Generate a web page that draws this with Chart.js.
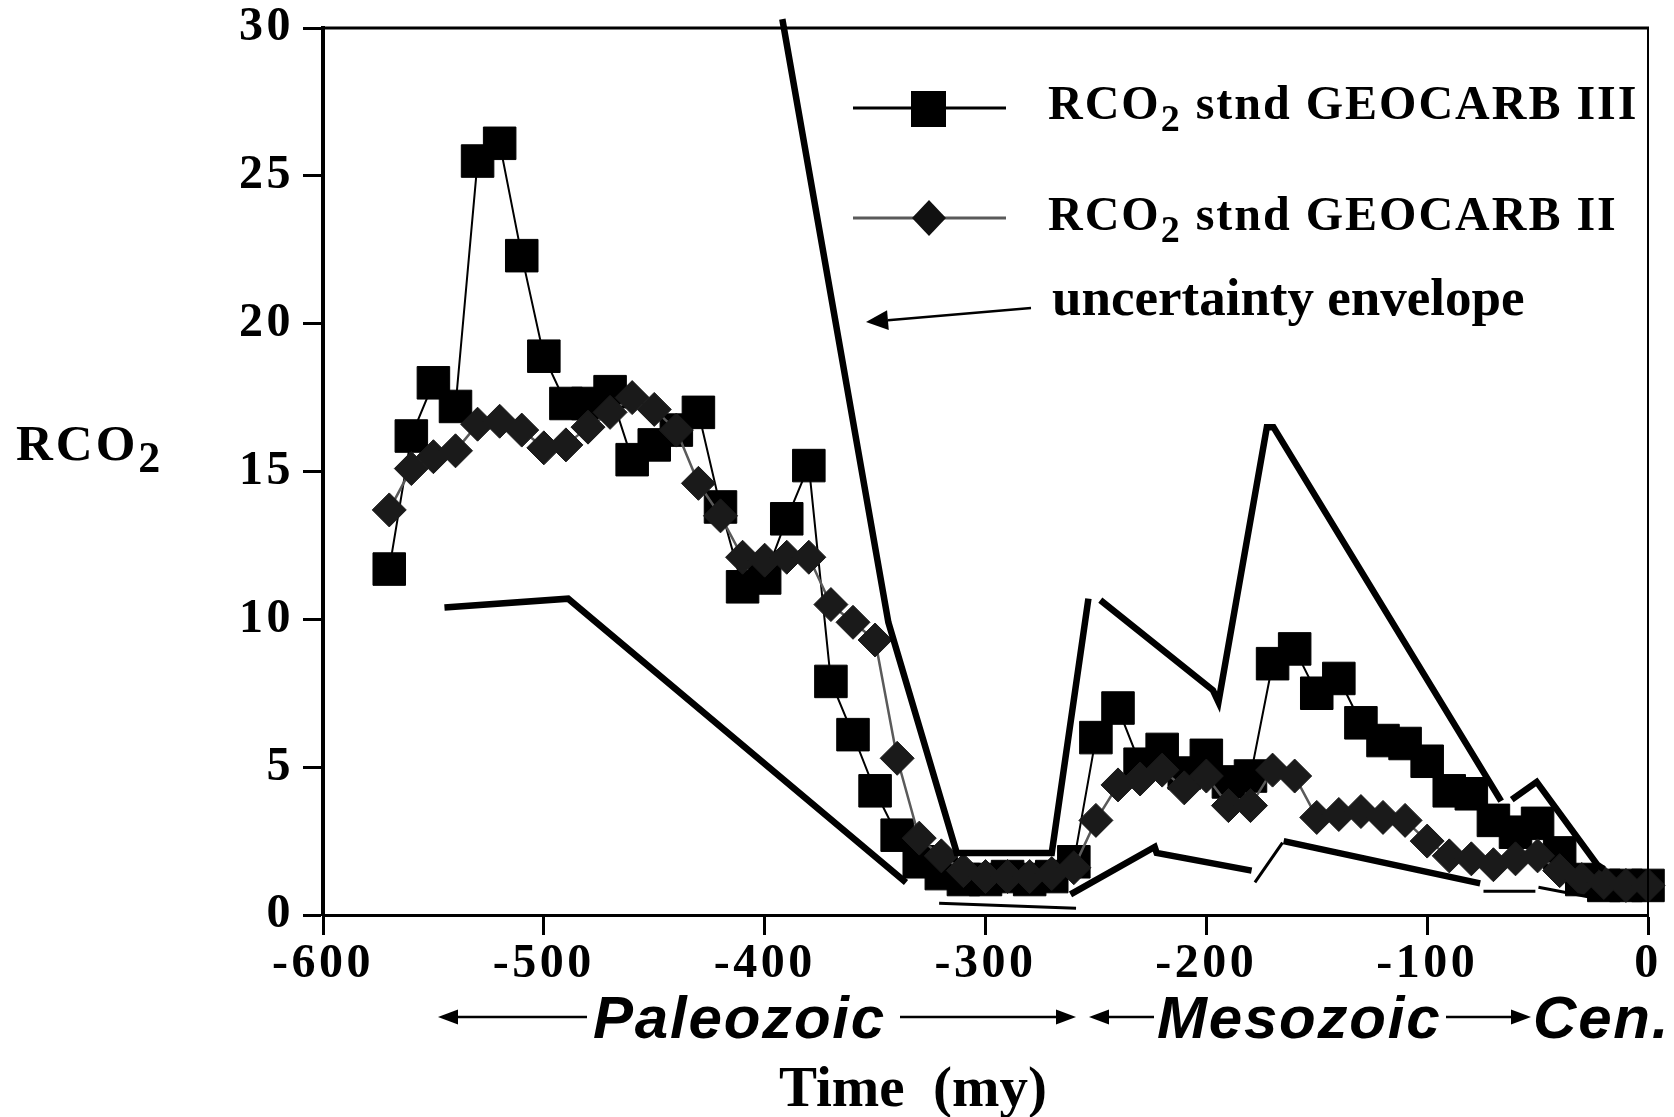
<!DOCTYPE html>
<html>
<head>
<meta charset="utf-8">
<title>RCO2 - GEOCARB II / III</title>
<script src="https://cdn.jsdelivr.net/npm/chart.js@4.4.1/dist/chart.umd.min.js"></script>
<style>
  html, body { margin: 0; padding: 0; background: #fff; }
  #wrap { width: 1674px; height: 1117px; }
</style>
</head>
<body>
<div id="wrap"><canvas id="rco2" width="1674" height="1117"></canvas></div>
<script>
// time in millions of years (negative = before present)
const ages = [-570, -560, -550, -540, -530, -520, -510, -500, -490, -480,
  -470, -460, -450, -440, -430, -420, -410, -400, -390, -380,
  -370, -360, -350, -340, -330, -320, -310, -300, -290, -280,
  -270, -260, -250, -240, -230, -220, -210, -200, -190, -180,
  -170, -160, -150, -140, -130, -120, -110, -100, -90, -80,
  -70, -60, -50, -40, -30, -20, -10, 0];

const geocarb3 = [11.7, 16.2, 18.0, 17.2, 25.5, 26.1, 22.3, 18.9, 17.3, 17.3,
  17.7, 15.4, 15.9, 16.4, 17.0, 13.8, 11.1, 11.4, 13.4, 15.2,
  7.9, 6.1, 4.2, 2.7, 1.8, 1.4, 1.2, 1.2, 1.3, 1.2,
  1.3, 1.8, 6.0, 7.0, 5.1, 5.6, 4.8, 5.4, 4.5, 4.7,
  8.5, 9.0, 7.5, 8.0, 6.5, 5.9, 5.8, 5.2, 4.2, 4.1,
  3.2, 2.8, 3.1, 2.1, 1.2, 1.0, 1.0, 1.0];

const geocarb2 = [13.7, 15.1, 15.5, 15.7, 16.6, 16.7, 16.4, 15.8, 15.9, 16.5,
  17.0, 17.5, 17.1, 16.4, 14.6, 13.5, 12.1, 12.0, 12.1, 12.1,
  10.5, 9.9, 9.3, 5.3, 2.6, 2.0, 1.5, 1.3, 1.3, 1.3,
  1.4, 1.6, 3.2, 4.4, 4.6, 4.9, 4.3, 4.7, 3.7, 3.7,
  4.9, 4.7, 3.3, 3.4, 3.5, 3.3, 3.2, 2.5, 2.0, 1.9,
  1.7, 1.9, 2.0, 1.5, 1.2, 1.1, 1.0, 1.0];

// uncertainty envelope (null = break in the line)
const upperAges = [-392, -344, -313, -270, -253.4, -250, -248, -197, -194.5, -172.6, -169.6, -66.5, -64, -61.7, -50.4, -23, -20];
const upperVals = [30.3, 9.9, 2.1, 2.1, 10.7, null, 10.65, 7.6, 7.2, 16.5, 16.5, 3.85, null, 3.9, 4.5, 1.7, 1.55];

const lowerAges = [-545, -489, -336, -330, -261.5, -223.4, -222.5, -179.5, -172, -165, -76];
const lowerVals = [10.4, 10.7, 1.1, null, 0.7, 2.3, 2.1, 1.5, null, 2.5, 1.07];

const thinAges = [-321, -259, -220, -178, -165.5, -120, -74.5, -51, -50.3, -49.6, -26];
const thinVals = [0.40, 0.23, null, 1.1, 2.45, null, 0.8, 0.8, null, 0.94, 0.6];

const xTickStep = 100;
const yTickStep = 5;

const serif = "'Liberation Serif', 'Times New Roman', serif";
const sans = "'Liberation Sans', Arial, sans-serif";

const pts = (xs, ys) => xs.map((x, i) => ({ x: x, y: ys[i] }));

function drawArrow(ctx, x1, y1, x2, y2, len, half) {
  const ang = Math.atan2(y2 - y1, x2 - x1);
  const bx = x2 - Math.cos(ang) * len;
  const by = y2 - Math.sin(ang) * len;
  ctx.beginPath();
  ctx.moveTo(x1, y1);
  ctx.lineTo(bx, by);
  ctx.stroke();
  ctx.beginPath();
  ctx.moveTo(x2, y2);
  ctx.lineTo(bx - Math.sin(ang) * half, by + Math.cos(ang) * half);
  ctx.lineTo(bx + Math.sin(ang) * half, by - Math.cos(ang) * half);
  ctx.closePath();
  ctx.fill();
}

// "RCO" with a lowered 2, then optional trailing text
function drawRCO2(ctx, x, y, size, subSize, subDrop, spacing, tail) {
  ctx.letterSpacing = spacing + 'px';
  ctx.font = 'bold ' + size + 'px ' + serif;
  ctx.fillText('RCO', x, y);
  let w = ctx.measureText('RCO').width;
  ctx.font = 'bold ' + subSize + 'px ' + serif;
  ctx.fillText('2', x + w, y + subDrop);
  w += ctx.measureText('2').width;
  if (tail) {
    ctx.font = 'bold ' + size + 'px ' + serif;
    ctx.fillText(tail, x + w, y);
  }
}

const annotations = {
  id: 'annotations',
  beforeDraw(chart) {
    // wide spacing for the tick numbers
    chart.ctx.letterSpacing = '3.5px';
  },
  beforeDatasetsDraw(chart) {
    chart.ctx.letterSpacing = '0px';
  },
  afterDraw(chart) {
    const ctx = chart.ctx;
    const a = chart.chartArea;
    ctx.save();
    ctx.strokeStyle = '#000';
    ctx.fillStyle = '#000';
    ctx.textAlign = 'left';
    ctx.textBaseline = 'alphabetic';

    // frame: top and right sides
    ctx.lineWidth = 3;
    ctx.beginPath();
    ctx.moveTo(a.left, a.top);
    ctx.lineTo(a.right + 1, a.top);
    ctx.stroke();
    ctx.lineWidth = 2;
    ctx.beginPath();
    ctx.moveTo(a.right, a.top);
    ctx.lineTo(a.right, a.bottom);
    ctx.stroke();

    // legend
    ctx.lineWidth = 3;
    ctx.beginPath();
    ctx.moveTo(853, 108);
    ctx.lineTo(1006, 108);
    ctx.stroke();
    ctx.fillRect(911, 91, 35, 36);

    ctx.strokeStyle = '#5a5a5a';
    ctx.beginPath();
    ctx.moveTo(853, 218);
    ctx.lineTo(1006, 218);
    ctx.stroke();
    ctx.fillStyle = '#111';
    ctx.beginPath();
    ctx.moveTo(929, 200);
    ctx.lineTo(946, 218);
    ctx.lineTo(929, 236);
    ctx.lineTo(912, 218);
    ctx.closePath();
    ctx.fill();
    ctx.fillStyle = '#000';
    ctx.strokeStyle = '#000';

    drawRCO2(ctx, 1048, 119, 48, 38, 12, 2, ' stnd GEOCARB III');
    drawRCO2(ctx, 1048, 230, 48, 38, 12, 2, ' stnd GEOCARB II');

    ctx.letterSpacing = '0px';
    ctx.font = 'bold 53px ' + serif;
    ctx.fillText('uncertainty envelope', 1052, 315);
    ctx.lineWidth = 2.5;
    drawArrow(ctx, 1031, 308, 866, 322, 22, 10);

    // y axis title
    drawRCO2(ctx, 16, 460, 51, 44, 12, 3, null);

    // era row
    ctx.lineWidth = 2.5;
    drawArrow(ctx, 587, 1017, 438, 1017, 20, 7.5);
    drawArrow(ctx, 900, 1017, 1076, 1017, 20, 7.5);
    drawArrow(ctx, 1154, 1017, 1089, 1017, 20, 7.5);
    drawArrow(ctx, 1446, 1017, 1531, 1017, 20, 7.5);
    ctx.letterSpacing = '1.8px';
    ctx.font = 'italic bold 60px ' + sans;
    ctx.fillText('Paleozoic', 593, 1038);
    ctx.fillText('Mesozoic', 1157, 1038);
    ctx.fillText('Cen.', 1533, 1038);

    // x axis title
    ctx.letterSpacing = '0px';
    ctx.font = 'bold 57px ' + serif;
    ctx.fillText('Time  (my)', 779, 1106, 273);

    ctx.restore();
  }
};

const tickFont = { family: serif, size: 48, weight: 'bold', lineHeight: 1.0 };

new Chart(document.getElementById('rco2'), {
  type: 'line',
  data: {
    datasets: [
      {
        label: 'upper envelope',
        data: pts(upperAges, upperVals),
        borderColor: '#000',
        borderWidth: 6.5,
        pointRadius: 0,
        spanGaps: false,
        clip: 12,
        order: 0
      },
      {
        label: 'lower envelope',
        data: pts(lowerAges, lowerVals),
        borderColor: '#000',
        borderWidth: 6.5,
        pointRadius: 0,
        spanGaps: false,
        order: 0
      },
      {
        label: 'lower envelope (thin)',
        data: pts(thinAges, thinVals),
        borderColor: '#000',
        borderWidth: 3,
        pointRadius: 0,
        spanGaps: false,
        order: 0
      },
      {
        label: 'RCO2 stnd GEOCARB II',
        data: pts(ages, geocarb2),
        borderColor: '#5a5a5a',
        borderWidth: 2.5,
        pointStyle: 'rectRot',
        pointRadius: 17,
        pointBackgroundColor: '#1a1a1a',
        pointBorderColor: '#1a1a1a',
        pointBorderWidth: 1,
        clip: false,
        order: 1
      },
      {
        label: 'RCO2 stnd GEOCARB III',
        data: pts(ages, geocarb3),
        borderColor: '#000',
        borderWidth: 2,
        pointStyle: 'rect',
        pointRadius: 23,
        pointBackgroundColor: '#000',
        pointBorderColor: '#000',
        pointBorderWidth: 1,
        clip: false,
        order: 2
      }
    ]
  },
  options: {
    responsive: false,
    animation: false,
    events: [],
    layout: { padding: { left: 0, right: 26, top: 28, bottom: 0 } },
    plugins: {
      legend: { display: false },
      tooltip: { enabled: false }
    },
    scales: {
      x: {
        type: 'linear',
        min: -600,
        max: 0,
        afterFit(scale) {
          scale.height = 202;
          scale.paddingLeft = 0;
          scale.paddingRight = 0;
        },
        ticks: {
          stepSize: xTickStep,
          color: '#000',
          font: tickFont,
          padding: 6,
          maxRotation: 0,
          autoSkip: false
        },
        grid: {
          drawOnChartArea: false,
          drawTicks: true,
          tickLength: 20,
          tickColor: '#000',
          tickWidth: 3
        },
        border: { display: true, color: '#000', width: 3 }
      },
      y: {
        min: 0,
        max: 30,
        afterFit(scale) {
          scale.width = 323;
          scale.paddingTop = 0;
          scale.paddingBottom = 0;
        },
        ticks: {
          stepSize: yTickStep,
          color: '#000',
          font: tickFont,
          padding: 9
        },
        grid: {
          drawOnChartArea: false,
          drawTicks: true,
          tickLength: 20,
          tickColor: '#000',
          tickWidth: 3
        },
        border: { display: true, color: '#000', width: 4 }
      }
    }
  },
  plugins: [annotations]
});
</script>
</body>
</html>
